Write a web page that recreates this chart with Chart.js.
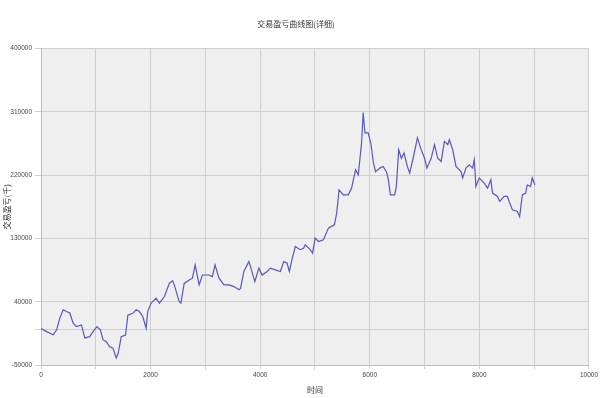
<!DOCTYPE html>
<html>
<head>
<meta charset="utf-8">
<script src="https://cdn.jsdelivr.net/npm/chart.js@4/dist/chart.umd.min.js"></script>
<style>
  html, body { margin: 0; padding: 0; background: #fff; }
  #chart { display: block; }
</style>
</head>
<body>
<canvas id="chart" width="600" height="398"></canvas>
<script>
// valores (tiempo / ganancia)
const tiempos = [
  0, 103, 224, 285, 345, 405, 466, 526, 587, 647, 738, 799, 889, 950, 1022, 1083,
  1131, 1192, 1252, 1313, 1373, 1410, 1464, 1543, 1585, 1676, 1737, 1797, 1857, 1918,
  1948, 2009, 2100, 2160, 2250, 2341, 2401, 2432, 2523, 2553, 2613, 2704, 2764, 2813,
  2886, 2946, 3067, 3127, 3176, 3249, 3339, 3430, 3521, 3612, 3642, 3702, 3793, 3824,
  3902, 3975, 4035, 4126, 4187, 4278, 4369, 4429, 4490, 4532, 4579, 4641, 4731, 4791,
  4822, 4913, 4955, 5003, 5064, 5154, 5245, 5354, 5396, 5439, 5517, 5608, 5668, 5741,
  5790, 5850, 5880, 5911, 5971, 6019, 6062, 6104, 6183, 6243, 6303, 6334, 6376, 6455,
  6485, 6528, 6576, 6624, 6685, 6728, 6788, 6870, 6939, 7000, 7042, 7120, 7181, 7241,
  7302, 7362, 7423, 7453, 7514, 7574, 7665, 7695, 7755, 7816, 7877, 7907, 7937, 7998,
  8089, 8149, 8209, 8240, 8330, 8372, 8452, 8512, 8554, 8603, 8693, 8735, 8784, 8844,
  8874, 8935, 8965, 9014
];
const ganancias = [
  2000, -2500, -7000, 0, 17000, 28500, 26000, 24000, 9400, 4600, 7000, -11500, -9700, -2500, 4600, 0,
  -14000, -16800, -24000, -26000, -40000, -33000, -9700, -7300, 21000, 23500, 28500, 26000, 19000, 2300,
  26000, 38000, 45000, 38000, 47000, 66000, 70000, 64000, 40000, 38000, 66000, 71000, 73500, 92500,
  64000, 78000, 78000, 75800, 92500, 73500, 64000, 64000, 61500, 57000, 59000, 83000, 97000, 90000,
  68500, 87700, 78000, 83000, 87700, 85300, 83000, 97000, 95000, 83000, 99500, 118500, 114000, 116000,
  121000, 114000, 109000, 130500, 125600, 128000, 144700, 149400, 166000, 199000, 192000, 192000, 201600, 227700,
  220600, 265700, 309000, 280000, 280000, 265700, 239500, 225000, 230000, 232400, 225000, 216000, 192000, 192000,
  204000, 256000, 244000, 251500, 232400, 223000, 243000, 273000, 256000, 244000, 230000, 244000, 263300, 244000,
  239500, 268000, 263300, 270400, 256000, 232400, 225000, 216000, 230000, 234800, 230000, 242000, 204000, 216000,
  208800, 201600, 213500, 194500, 189700, 182600, 189700, 189700, 180300, 170700, 168300, 161200, 192000, 194500,
  206000, 204000, 216000, 206000
];

// ticks de los ejes
const ticksY = [-50000, 0, 40000, 130000, 220000, 310000, 400000];
const etiquetasY = [-50000, 40000, 130000, 220000, 310000, 400000];
const ticksX = [0, 1000, 2000, 3000, 4000, 5000, 6000, 7000, 8000, 9000, 10000];
const etiquetasX = [0, 2000, 4000, 6000, 8000, 10000];

const puntos = tiempos.map((t, i) => ({ x: t, y: ganancias[i] }));

// fondo gris del area de dibujo
const fondoPlugin = {
  id: 'fondo',
  beforeDraw(chart) {
    const { ctx, chartArea: a } = chart;
    ctx.save();
    ctx.fillStyle = '#efefef';
    ctx.fillRect(a.left, a.top, a.right - a.left, a.bottom - a.top);
    ctx.restore();
  }
};

const fuenteTicks = { family: '"Liberation Sans", Arial, sans-serif', size: 6.5 };
const fuenteCJK = { family: '"Noto Sans CJK SC", sans-serif', size: 8, weight: 'normal' };

new Chart(document.getElementById('chart').getContext('2d'), {
  type: 'line',
  data: {
    datasets: [{
      data: puntos,
      borderColor: '#5858bf',
      borderWidth: 1.2,
      pointRadius: 0,
      tension: 0,
      fill: false
    }]
  },
  options: {
    responsive: false,
    animation: false,
    layout: { padding: { left: 0, right: 8, top: 0, bottom: 0 } },
    plugins: {
      legend: { display: false },
      tooltip: { enabled: false },
      title: {
        display: true,
        text: '交易盈亏曲线图(详细)',
        color: '#333',
        font: fuenteCJK,
        padding: { top: 19, bottom: 20 }
      }
    },
    scales: {
      x: {
        type: 'linear',
        min: 0,
        max: 10000,
        afterBuildTicks: s => { s.ticks = ticksX.map(v => ({ value: v })); },
        afterFit: s => { s.height = 33; },
        ticks: {
          color: '#444',
          font: fuenteTicks,
          padding: 2,
          maxRotation: 0,
          autoSkip: false,
          callback: v => etiquetasX.includes(v) ? String(v) : ''
        },
        grid: { color: '#cfcfcf', tickLength: 4 },
        border: { color: '#bdbdbd' },
        title: {
          display: true,
          text: '时间',
          color: '#333',
          font: fuenteCJK,
          padding: { top: 0, bottom: 3 }
        }
      },
      y: {
        min: -50000,
        max: 400000,
        afterBuildTicks: s => { s.ticks = ticksY.map(v => ({ value: v })); },
        afterFit: s => { s.width = 41; },
        ticks: {
          color: '#444',
          font: fuenteTicks,
          padding: 3,
          autoSkip: false,
          callback: v => etiquetasY.includes(v) ? String(v) : ''
        },
        grid: { color: '#cfcfcf', tickLength: 6 },
        border: { color: '#bdbdbd' },
        title: {
          display: true,
          text: '交易盈亏(千)',
          color: '#333',
          font: fuenteCJK,
          padding: { top: 2, bottom: 0 }
        }
      }
    }
  },
  plugins: [fondoPlugin]
});
</script>
</body>
</html>
